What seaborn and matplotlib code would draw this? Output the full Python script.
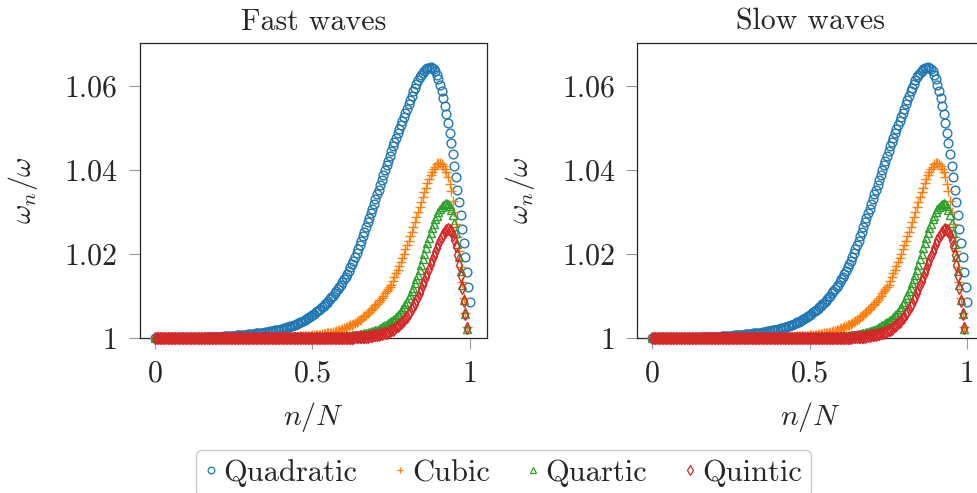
import numpy as np
import pandas as pd
import matplotlib
matplotlib.use("Agg")
import matplotlib.pyplot as plt
from matplotlib.lines import Line2D
import seaborn as sns

# ---------------- data (deviation of omega_n/omega from 1, in units of 1e-4) ----------------
N = 200  # n/N grid spacing denominator

quadratic_e4 = [
    0, 0, 0, 0, 0, 0, 0, 0, 0, 0,
    0, 0, 0, 0, 0, 0, 0, 0, 0, 0,
    0, 0, 0, 0, 0, 1, 1, 1, 1, 1,
    1, 1, 1, 2, 2, 2, 2, 2, 2, 2,
    3, 3, 3, 3, 4, 4, 4, 4, 5, 5,
    5, 5, 6, 6, 6, 7, 7, 8, 8, 9,
    9, 9, 10, 10, 11, 11, 12, 12, 13, 13,
    14, 14, 15, 16, 16, 17, 18, 19, 19, 20,
    21, 22, 23, 24, 25, 26, 28, 29, 30, 32,
    34, 35, 37, 39, 41, 43, 46, 48, 50, 53,
    55, 58, 61, 64, 67, 70, 74, 77, 81, 84,
    88, 92, 97, 101, 106, 111, 116, 121, 127, 133,
    140, 146, 153, 160, 168, 176, 184, 193, 202, 212,
    222, 232, 242, 253, 264, 275, 286, 297, 308, 319,
    330, 342, 353, 365, 376, 388, 399, 411, 422, 434,
    445, 456, 467, 477, 487, 497, 507, 517, 527, 536,
    545, 556, 567, 577, 587, 596, 605, 613, 620, 626,
    631, 636, 639, 642, 643, 644, 643, 640, 635, 627,
    616, 603, 588, 571, 553, 533, 511, 488, 463, 437,
    410, 382, 353, 323, 292, 260, 227, 193, 158, 122,
    86,
]

cubic_e4 = [
    0, 0, 0, 0, 0, 0, 0, 0, 0, 0,
    0, 0, 0, 0, 0, 0, 0, 0, 0, 0,
    0, 0, 0, 0, 0, 0, 0, 0, 0, 0,
    0, 0, 0, 0, 0, 0, 0, 0, 0, 0,
    0, 0, 0, 0, 0, 0, 0, 0, 0, 0,
    0, 0, 0, 0, 0, 0, 0, 0, 0, 0,
    0, 0, 0, 0, 1, 1, 1, 1, 1, 1,
    1, 1, 1, 1, 1, 1, 2, 2, 2, 2,
    2, 2, 2, 2, 2, 3, 3, 3, 3, 3,
    3, 3, 4, 4, 4, 4, 4, 5, 5, 5,
    6, 6, 7, 7, 8, 8, 9, 9, 10, 11,
    12, 12, 13, 14, 15, 16, 17, 19, 20, 21,
    23, 24, 26, 28, 30, 32, 34, 36, 38, 41,
    43, 46, 49, 52, 55, 59, 62, 66, 70, 74,
    78, 82, 86, 91, 96, 101, 106, 111, 116, 121,
    127, 136, 145, 154, 163, 172, 181, 191, 201, 211,
    221, 231, 242, 253, 264, 276, 288, 300, 312, 324,
    336, 347, 358, 368, 378, 387, 395, 402, 408, 413,
    416, 416, 414, 410, 403, 394, 382, 367, 349, 327,
    301, 272, 240, 206, 170, 133, 96, 60, 25,
]

quartic_e4 = [
    0, 0, 0, 0, 0, 0, 0, 0, 0, 0,
    0, 0, 0, 0, 0, 0, 0, 0, 0, 0,
    0, 0, 0, 0, 0, 0, 0, 0, 0, 0,
    0, 0, 0, 0, 0, 0, 0, 0, 0, 0,
    0, 0, 0, 0, 0, 0, 0, 0, 0, 0,
    0, 0, 0, 0, 0, 0, 0, 0, 0, 0,
    0, 0, 0, 0, 0, 0, 0, 0, 0, 0,
    0, 0, 0, 0, 0, 0, 0, 0, 0, 0,
    0, 0, 0, 0, 0, 0, 0, 0, 0, 0,
    0, 0, 0, 0, 0, 0, 1, 1, 1, 1,
    1, 1, 1, 1, 1, 1, 1, 1, 2, 2,
    2, 2, 2, 2, 2, 3, 3, 3, 3, 4,
    4, 4, 5, 5, 5, 6, 6, 7, 7, 8,
    9, 9, 10, 11, 12, 13, 14, 15, 16, 17,
    19, 20, 22, 24, 26, 28, 30, 32, 35, 37,
    40, 43, 46, 50, 54, 58, 63, 68, 74, 80,
    86, 94, 102, 111, 120, 130, 140, 151, 162, 174,
    187, 200, 213, 226, 238, 250, 261, 272, 282, 291,
    299, 306, 312, 317, 320, 321, 319, 314, 305, 292,
    274, 251, 224, 193, 160, 126, 91, 56, 21,
]

quintic_e4 = [
    0, 0, 0, 0, 0, 0, 0, 0, 0, 0,
    0, 0, 0, 0, 0, 0, 0, 0, 0, 0,
    0, 0, 0, 0, 0, 0, 0, 0, 0, 0,
    0, 0, 0, 0, 0, 0, 0, 0, 0, 0,
    0, 0, 0, 0, 0, 0, 0, 0, 0, 0,
    0, 0, 0, 0, 0, 0, 0, 0, 0, 0,
    0, 0, 0, 0, 0, 0, 0, 0, 0, 0,
    0, 0, 0, 0, 0, 0, 0, 0, 0, 0,
    0, 0, 0, 0, 0, 0, 0, 0, 0, 0,
    0, 0, 0, 0, 0, 0, 0, 0, 0, 0,
    0, 0, 0, 0, 0, 0, 0, 0, 0, 0,
    0, 0, 0, 0, 0, 0, 0, 0, 0, 0,
    1, 1, 1, 1, 1, 1, 1, 2, 2, 2,
    2, 2, 2, 3, 3, 3, 4, 4, 5, 6,
    7, 7, 8, 9, 10, 11, 12, 13, 15, 16,
    18, 20, 22, 25, 28, 31, 35, 39, 43, 47,
    51, 56, 62, 68, 75, 82, 90, 98, 107, 116,
    125, 135, 145, 155, 165, 175, 185, 195, 205, 215,
    224, 233, 241, 248, 253, 257, 259, 258, 254, 246,
    234, 218, 198, 174, 148, 120, 89, 56, 23,
]

series_names = ["Quadratic", "Cubic", "Quartic", "Quintic"]
series_values = [quadratic_e4, cubic_e4, quartic_e4, quintic_e4]
panel_titles = ["Fast waves", "Slow waves"]
x_ticks = [0, 0.5, 1]
x_tick_labels = ["0", "0.5", "1"]
y_ticks = [1, 1.02, 1.04, 1.06]
y_tick_labels = ["1", "1.02", "1.04", "1.06"]

# ---------------- styling ----------------
colors = ["#1f77b4", "#ff7f0e", "#2ca02c", "#d62728"]
markers = ["o", "+", "^", "d"]
msizes = [6.3, 7.2, 6.0, 5.8]

sns.set_style("ticks")
plt.rcParams.update({
    "font.family": "cmr10",
    "mathtext.fontset": "cm",
    "axes.formatter.use_mathtext": True,
    "axes.unicode_minus": False,
})

W, H = 977, 493
fig = plt.figure(figsize=(W / 100, H / 100), dpi=100)

ax_w = 346.5 / W
ax_h = 295 / H
ax_b = (H - 338) / H
lefts = [140 / W, 637.3 / W]

frames = []
for name, vals in zip(series_names, series_values):
    v = np.asarray(vals, dtype=float)
    frames.append(pd.DataFrame({
        "x": np.arange(len(v)) / N,
        "y": 1.0 + v * 1e-4,
        "series": name,
    }))
df = pd.concat(frames, ignore_index=True)

for left, title in zip(lefts, panel_titles):
    ax = fig.add_axes([left, ax_b, ax_w, ax_h])
    for name, c, m, ms in zip(series_names, colors, markers, msizes):
        sub = df[df["series"] == name]
        sns.lineplot(data=sub, x="x", y="y", ax=ax, estimator=None, sort=False,
                     errorbar=None, legend=False, color=c,
                     marker=m, linestyle="none", markersize=ms,
                     markerfacecolor="none", markeredgecolor=c,
                     markeredgewidth=1.0, clip_on=False, zorder=3)
    ax.set_xlim(-0.0476, 1.0524)
    ax.set_ylim(1.0, 1.0702)
    ax.set_xticks(x_ticks)
    ax.set_xticklabels(x_tick_labels)
    ax.set_yticks(y_ticks)
    ax.set_yticklabels(y_tick_labels)
    ax.tick_params(direction="out", length=8, width=0.8, color="#9a9a9a",
                   labelsize=21.5, pad=8, top=False, right=False)
    for s in ax.spines.values():
        s.set_linewidth(0.9)
        s.set_color("#262626")
    ax.set_title(title, fontsize=21.5, pad=9.5)
    ax.set_xlabel(r"$n/N$", fontsize=21.5)
    ax.xaxis.set_label_coords(0.5, -0.21)
    ax.set_ylabel(r"$\omega_n/\omega$", fontsize=21.5)
    ax.yaxis.set_label_coords(-0.289, 0.5)

handles = [Line2D([], [], linestyle="none", marker=m, color=c, markersize=4.8,
                  markerfacecolor="none", markeredgecolor=c, markeredgewidth=0.9)
           for c, m in zip(colors, markers)]
fig.legend(handles, series_names, loc="upper left",
           bbox_to_anchor=(196 / W, 1 - 450 / H), ncol=4, frameon=True,
           fancybox=True, edgecolor="#bbbbbb", fontsize=22,
           handlelength=0.4, handletextpad=0.2, columnspacing=1.2,
           borderpad=0.3, borderaxespad=0.0)

fig.savefig("out.png", dpi=100)
